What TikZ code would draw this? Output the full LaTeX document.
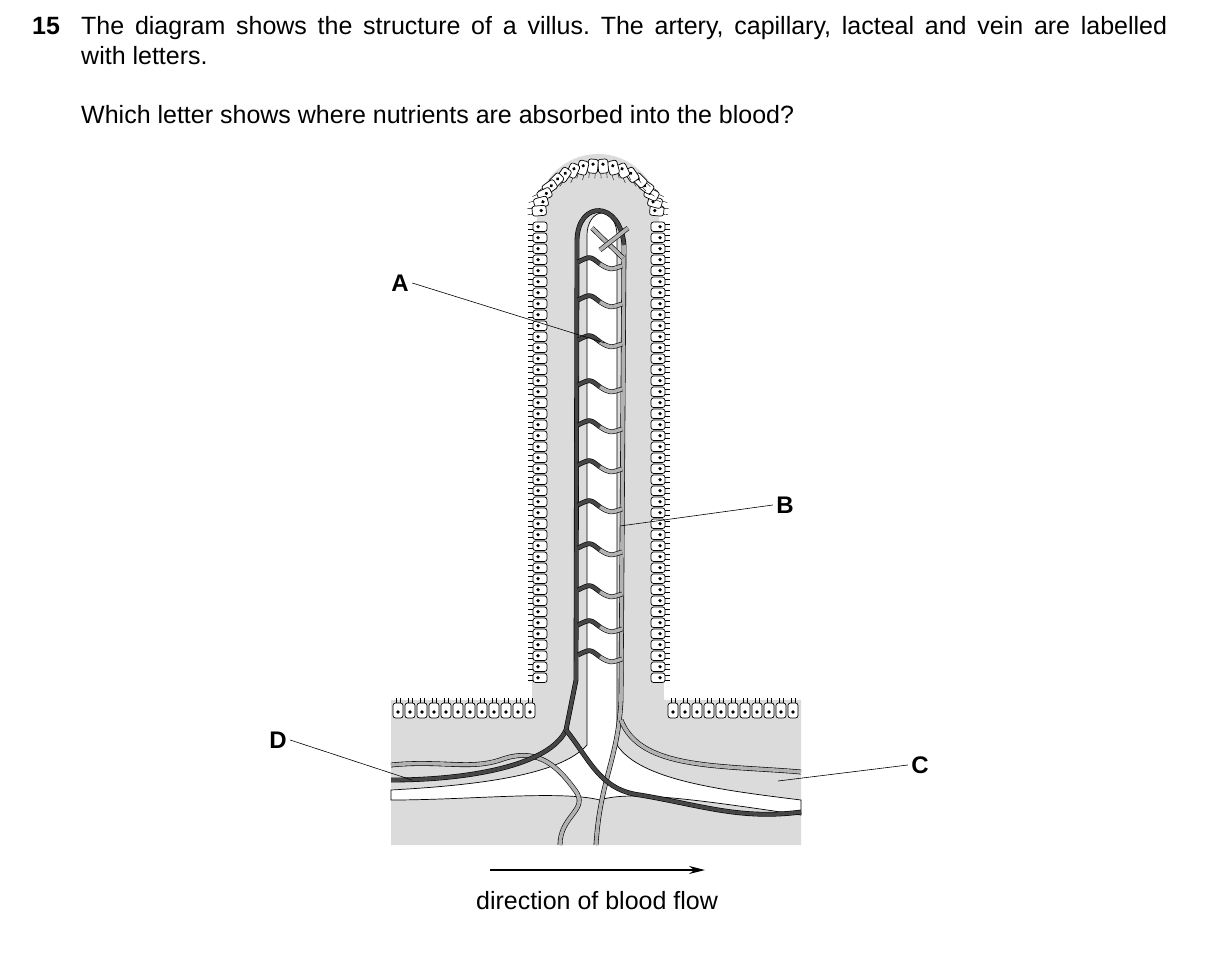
\documentclass[tikz,border=0pt]{standalone}
\usepackage{fontspec}
\setmainfont{Liberation Sans}
\usetikzlibrary{arrows.meta}
\frenchspacing
\tikzset{
  cell/.style={draw=black,fill=white,rounded corners=2.5pt,line width=0.7pt},
  vdark/.style={draw=black,double=gray!55!black,double distance=3.6pt,line width=0.6pt},
  vlight/.style={draw=black,double=gray!60,double distance=3.6pt,line width=0.6pt},
  lbl/.style={font=\bfseries\fontsize{24}{28}\selectfont},
  leader/.style={draw=black,line width=0.6pt}
}
\begin{document}
\begin{tikzpicture}[x=1pt,y=-1pt,font=\fontsize{25}{29}\selectfont]
\useasboundingbox (0,0) rectangle (1209,974);
% question text
\node (num) [anchor=base west,inner sep=0pt,font=\bfseries\fontsize{25}{29}\selectfont] at (32,35) {15};
\node (q1) [anchor=base west,inner sep=0pt] at (81,35) {\hbox to 1086pt{The diagram shows the structure of a villus. The artery, capillary, lacteal and vein are labelled}};
\node (q2) [anchor=base west,inner sep=0pt] at (81,64) {with letters.};
\node (q3) [anchor=base west,inner sep=0pt] at (81,123) {Which letter shows where nutrients are absorbed into the blood?};
% tissue
\fill[gray!28] (391,700) -- (532,700) -- (537,215) arc[start angle=180,end angle=0,x radius=61,y radius=-61] -- (664,700) -- (801,700) -- (801,845) -- (391,845) -- cycle;
% epithelial cells
\foreach \y in {222,233,...,680} {
  \draw[cell] (533,\y) rectangle ++(14,9.5); \fill (538,\y+4.7) circle (1.8);
  \draw[cell] (651,\y) rectangle ++(14,9.5); \fill (660,\y+4.7) circle (1.8);
  \draw (533,\y+2) -- ++(-5,0) (533,\y+7) -- ++(-5,0) (665,\y+2) -- ++(5,0) (665,\y+7) -- ++(5,0);
}
\foreach \a in {5,15,...,175} {
  \begin{scope}[shift={({598+54*cos(\a)},{215-54*sin(\a)})},rotate=-\a]
    \draw[cell] (-2,-5) rectangle (12,5); \fill (3,0) circle (1.8);
    \draw (12,-3) -- (17,-3) (12,3) -- (17,3);
  \end{scope}
}
\foreach \x in {393,405,...,525} {
  \draw[cell] (\x,703) rectangle ++(10,15); \fill (\x+5,712) circle (1.8);
  \draw (\x+3,703) -- ++(0,-5) (\x+7,703) -- ++(0,-5);
}
\foreach \x in {668,680,...,790} {
  \draw[cell] (\x,703) rectangle ++(10,15); \fill (\x+5,712) circle (1.8);
  \draw (\x+3,703) -- ++(0,-5) (\x+7,703) -- ++(0,-5);
}
% lacteal
\draw[fill=white,line width=0.7pt] (587,745) -- (587,235) arc[start angle=180,end angle=0,x radius=15,y radius=-22] -- (617,745)
  .. controls (640,780) and (720,790) .. (801,800) -- (801,815)
  .. controls (700,800) and (630,790) .. (600,800) .. controls (560,790) and (470,800) .. (391,800) -- (391,790)
  .. controls (480,785) and (560,775) .. (587,745);
% vessels
\draw[vlight] (624,245) -- (621,700) .. controls (618,760) and (600,780) .. (596,845);
\draw[vlight] (621,720) .. controls (640,770) and (720,765) .. (801,772);
\draw[vlight] (391,765) .. controls (440,760) and (470,770) .. (500,760) .. controls (540,745) and (560,770) .. (575,790) .. controls (590,810) and (560,815) .. (560,845);
\draw[vdark] (391,780) .. controls (470,780) and (550,765) .. (566,730) -- (576,680) -- (577,240)
  .. controls (578,200) and (620,200) .. (624,245);
\draw[vdark] (566,730) .. controls (590,760) and (600,790) .. (640,795) .. controls (700,805) and (740,820) .. (801,812);
\foreach \y in {262,300,340,385,425,465,505,548,590,625,655} {
  \draw[vdark] (578,\y) .. controls (590,\y-6) .. (600,\y+2);
  \draw[vlight] (600,\y+2) .. controls (610,\y+8) .. (622,\y+4);
}
\draw[vlight] (592,228) -- (623,258);
\draw[vlight] (600,250) -- (628,228);
% labels
\node (A) [lbl] at (400,283) {A};
\node (B) [lbl] at (785,505) {B};
\node (C) [lbl] at (920,765) {C};
\node (D) [lbl] at (278,740) {D};
\coordinate (a) at (605,343);
\coordinate (b) at (620,526);
\coordinate (c) at (778,781);
\coordinate (d) at (412,780);
\draw[leader] (A.east) -- (a);
\draw[leader] (B.west) -- (b);
\draw[leader] (C.west) -- (c);
\draw[leader] (D.east) -- (d);
% flow arrow
\coordinate (f1) at (490,870);
\coordinate (f2) at (705,870);
\draw[line width=1.4pt,-{Stealth[length=16pt,width=8pt]}] (f1) -- (f2);
\node (flow) at (597,901) {direction of blood flow};
\end{tikzpicture}
\end{document}
